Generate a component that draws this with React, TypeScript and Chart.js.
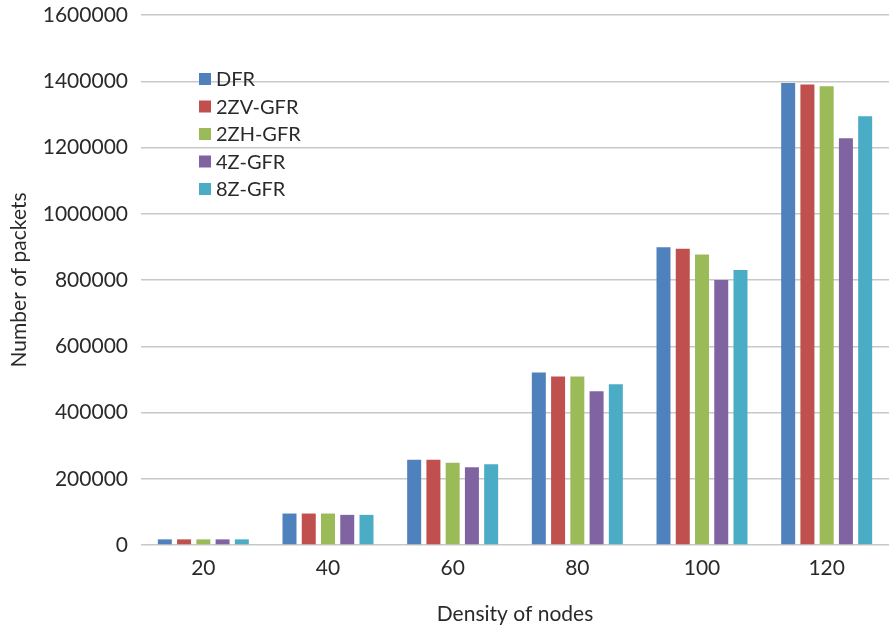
import React, { useEffect, useRef } from "react";
import { Chart, registerables } from "chart.js";

Chart.register(...registerables);

const categories = ["20", "40", "60", "80", "100", "120"];
const seriesNames = ["DFR", "2ZV-GFR", "2ZH-GFR", "4Z-GFR", "8Z-GFR"];
const seriesColors = ["#4F81BD", "#C0504D", "#9BBB59", "#8064A2", "#4BACC6"];

const dfr = [17000, 95000, 257000, 521000, 899000, 1395000];
const zv2 = [17000, 95000, 257000, 509000, 894000, 1390000];
const zh2 = [17000, 95000, 248000, 509000, 877000, 1385000];
const z4 = [17000, 91000, 235000, 464000, 800000, 1228000];
const z8 = [17000, 91000, 244000, 485000, 830000, 1294000];

const seriesValues = [dfr, zv2, zh2, z4, z8];

const yMax = 1600000;
const yStep = 200000;

const textColor = "#2a2a2a";
const fontFamily = "Lato, 'Open Sans', sans-serif";

// Legend drawn inside the plot area, near its top-left corner
const insideLegend = {
  id: "insideLegend",
  afterDraw(chart: any) {
    const ctx = chart.ctx;
    const x0 = 199;
    const y0 = 79;
    const rowGap = 27.5;
    const box = 12;
    ctx.save();
    ctx.font = `20px ${fontFamily}`;
    ctx.textBaseline = "middle";
    ctx.textAlign = "left";
    chart.data.datasets.forEach((ds: any, i: number) => {
      const cy = y0 + i * rowGap;
      ctx.fillStyle = ds.backgroundColor;
      ctx.fillRect(x0, cy - box / 2, box, box);
      ctx.fillStyle = textColor;
      ctx.fillText(ds.label, x0 + box + 5, cy + 1);
    });
    ctx.restore();
  },
};

export default function App() {
  const canvasRef = useRef<HTMLCanvasElement | null>(null);

  useEffect(() => {
    if (!canvasRef.current) return;
    const chart = new Chart(canvasRef.current, {
      type: "bar",
      data: {
        labels: categories,
        datasets: seriesNames.map((name, i) => ({
          label: name,
          data: seriesValues[i],
          backgroundColor: seriesColors[i],
          borderWidth: 0,
          categoryPercentage: 0.772,
          barPercentage: 0.727,
        })),
      },
      options: {
        responsive: false,
        animation: false,
        layout: { padding: { top: 15, left: 0, right: 0, bottom: 0 } },
        plugins: {
          legend: { display: false },
          tooltip: { enabled: false },
        },
        scales: {
          x: {
            grid: { display: false, drawTicks: false },
            border: { display: false },
            ticks: {
              color: textColor,
              font: { family: fontFamily, size: 21 },
              padding: 11,
              maxRotation: 0,
            },
            title: {
              display: true,
              text: "Density of nodes",
              color: textColor,
              font: { family: fontFamily, size: 21 },
              padding: { top: 4, bottom: 2 },
            },
            afterFit: (s: any) => {
              s.height = 84;
            },
          },
          y: {
            min: 0,
            max: yMax,
            grid: { color: "#c8c8c8", lineWidth: 1.5, drawTicks: false },
            border: { display: false },
            ticks: {
              stepSize: yStep,
              color: textColor,
              font: { family: fontFamily, size: 21 },
              padding: 13,
              callback: (v: any) => String(v),
            },
            title: {
              display: true,
              text: "Number of packets",
              color: textColor,
              font: { family: fontFamily, size: 21 },
              padding: { top: 7, bottom: 0 },
            },
            afterFit: (s: any) => {
              s.width = 141;
              s.paddingTop = 0;
              s.paddingBottom = 0;
            },
          },
        },
      },
      plugins: [insideLegend],
    });
    return () => chart.destroy();
  }, []);

  return (
    <div
      style={{
        position: "fixed",
        left: 0,
        top: 0,
        width: 889,
        height: 629,
        background: "#ffffff",
        overflow: "hidden",
      }}
    >
      <canvas ref={canvasRef} width={889} height={629} style={{ display: "block" }} />
    </div>
  );
}
